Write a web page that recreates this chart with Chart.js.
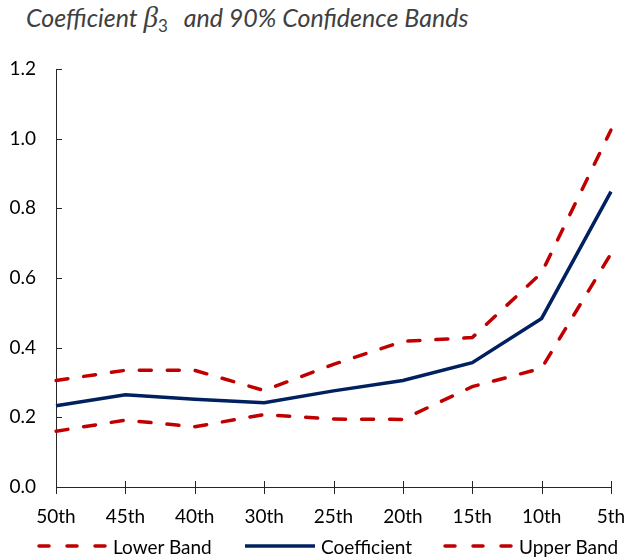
<!DOCTYPE html>
<html>
<head>
<meta charset="utf-8">
<script src="https://cdn.jsdelivr.net/npm/chart.js@4.4.1/dist/chart.umd.min.js"></script>
<style>
  html, body { margin: 0; padding: 0; background: #fff; }
  #wrap { position: relative; width: 626px; height: 558px; }
  #title {
    position: absolute; left: 26px; top: 1px;
    font-family: Lato, "Open Sans", sans-serif; font-style: italic;
    font-size: 25px; color: #404040; white-space: nowrap;
  }
  #title .beta { font-family: "Liberation Serif", serif; font-style: italic; font-size: 29px; }
  #title sub { font-style: normal; font-size: 17px; vertical-align: -5px; margin-right: 10px; }
  canvas { position: absolute; left: 0; top: 0; }
  .item {
    position: absolute; top: 534px; height: 24px; display: flex; align-items: center;
    font-family: Lato, "Open Sans", sans-serif; font-size: 19px; color: #000; white-space: nowrap;
  }
  .item svg { margin-right: 6px; }
</style>
</head>
<body>
<div id="wrap">
  <div id="title">Coefficient <span class="beta">β</span><sub>3</sub> and 90% Confidence Bands</div>
  <canvas id="c" width="626" height="558"></canvas>
  <div id="legend"></div>
</div>
<script>
const categories = ['50th', '45th', '40th', '30th', '25th', '20th', '15th', '10th', '5th'];
const lowerBand   = [0.160, 0.192, 0.173, 0.208, 0.195, 0.194, 0.288, 0.341, 0.670];
const coefficient = [0.233, 0.265, 0.252, 0.242, 0.276, 0.306, 0.357, 0.484, 0.848];
const upperBand   = [0.306, 0.335, 0.335, 0.277, 0.352, 0.418, 0.429, 0.615, 1.025];
const yTicks = [0, 0.2, 0.4, 0.6, 0.8, 1.0, 1.2];

const RED = '#C00000';
const NAVY = '#002060';
const AXIS = '#262626';
const FONT = 'Lato, "Open Sans", sans-serif';
const FONT_SIZE = 19;

// Tick marks: y ticks point into the plot, x ticks cross the axis line
const tickMarks = {
  id: 'tickMarks',
  afterDraw(chart) {
    const { ctx, scales: { x, y }, chartArea } = chart;
    ctx.save();
    ctx.strokeStyle = AXIS;
    ctx.lineWidth = 1;
    ctx.beginPath();
    yTicks.forEach(v => {
      const py = Math.round(y.getPixelForValue(v)) + 0.5;
      ctx.moveTo(chartArea.left, py);
      ctx.lineTo(chartArea.left + 6, py);
    });
    categories.forEach((c, i) => {
      const px = Math.round(x.getPixelForValue(i)) + 0.5;
      ctx.moveTo(px, chartArea.bottom - 6);
      ctx.lineTo(px, chartArea.bottom + 7);
    });
    ctx.stroke();
    ctx.restore();
  }
};

const chart = new Chart(document.getElementById('c'), {
  type: 'line',
  data: {
    labels: categories,
    datasets: [
      { label: 'Lower Band', data: lowerBand, borderColor: RED, backgroundColor: RED,
        borderWidth: 3.5, borderDash: [12, 16], borderCapStyle: 'round' },
      { label: 'Coefficient', data: coefficient, borderColor: NAVY, backgroundColor: NAVY,
        borderWidth: 3.5 },
      { label: 'Upper Band', data: upperBand, borderColor: RED, backgroundColor: RED,
        borderWidth: 3.5, borderDash: [12, 16], borderCapStyle: 'round' }
    ]
  },
  options: {
    responsive: false,
    animation: false,
    layout: { padding: { top: 69, right: 15, left: 0, bottom: 0 } },
    elements: { point: { radius: 0 }, line: { tension: 0 } },
    plugins: {
      title: { display: false },
      tooltip: { enabled: false },
      legend: { display: false }
    },
    scales: {
      x: {
        offset: false,
        afterFit(scale) { scale.height = 71; scale.paddingRight = 0; scale.paddingLeft = 0; },
        grid: { display: false, drawTicks: false },
        border: { display: true, color: AXIS, width: 1 },
        ticks: { font: { family: FONT, size: FONT_SIZE }, color: '#000', padding: 18, maxRotation: 0, autoSkip: false }
      },
      y: {
        min: 0, max: 1.2,
        afterBuildTicks(scale) { scale.ticks = yTicks.map(v => ({ value: v })); },
        afterFit(scale) { scale.width = 56; },
        grid: { display: false, drawTicks: false },
        border: { display: true, color: AXIS, width: 1 },
        ticks: { font: { family: FONT, size: FONT_SIZE }, color: '#000', padding: 20,
                 callback: v => Number(v).toFixed(1) }
      }
    }
  },
  plugins: [tickMarks]
});

// Legend built from the chart's datasets, with line samples in each dataset's style
const legendX = [37, 245, 443];
const legend = document.getElementById('legend');
chart.data.datasets.forEach((ds, i) => {
  const item = document.createElement('div');
  item.className = 'item';
  item.style.left = legendX[i] + 'px';
  const dash = ds.borderDash ? 'stroke-dasharray="10 18" stroke-linecap="round"' : '';
  const x1 = ds.borderDash ? 2 : 0, x2 = ds.borderDash ? 68 : 70;
  item.innerHTML =
    `<svg width="70" height="8"><line x1="${x1}" y1="4" x2="${x2}" y2="4" stroke="${ds.borderColor}" stroke-width="3.5" ${dash}/></svg>` +
    `<span>${ds.label}</span>`;
  legend.appendChild(item);
});
</script>
</body>
</html>
